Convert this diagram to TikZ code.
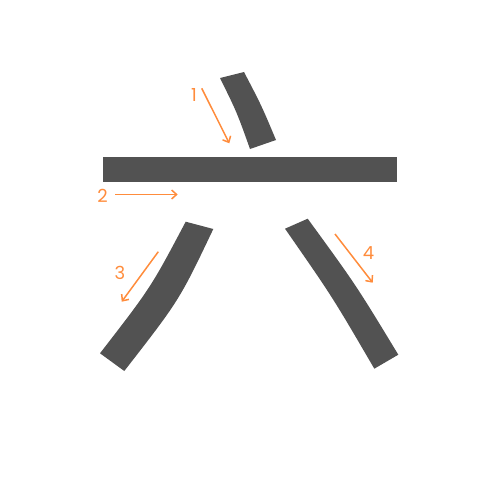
\documentclass[tikz,border=0pt]{standalone}
\usepackage{fontspec}
\setmainfont{Poppins}
\usetikzlibrary{arrows.meta}
\definecolor{strokegray}{RGB}{82,82,82}
\definecolor{hintorange}{RGB}{255,140,60}
\begin{document}
\begin{tikzpicture}[x=1pt,y=-1pt,
  brush/.style={fill=strokegray},
  hint/.style={draw=hintorange,line width=1.5pt,-{Straight Barb[length=5pt,width=9pt]}},
  num/.style={text=hintorange,font=\fontsize{18}{18}\selectfont,inner sep=0pt}]
\useasboundingbox (0,0) rectangle (500,500);
% strokes
\path[brush] (220,78) -- (244,72) .. controls (261.5,105.5) .. (276,140)
  -- (250,149) .. controls (237,112.5) .. cycle;
\path[brush] (103,157) rectangle (397,182);
\path[brush] (185.7,221.7) -- (213.3,229) .. controls (179.5,300) .. (124.3,371)
  -- (100,353.3) .. controls (150.9,287.5) .. cycle;
\path[brush] (285,228.7) -- (307.7,218.7) .. controls (356,285) .. (398.3,354.7)
  -- (374.3,368.7) .. controls (332.5,297) .. cycle;
% hint arrows
\coordinate (a1s) at (201.7,88.3); \coordinate (a1e) at (229.3,143.3);
\coordinate (a2s) at (115,194.5); \coordinate (a2e) at (177.7,194.5);
\coordinate (a3s) at (158.3,251.7); \coordinate (a3e) at (121.7,301.7);
\coordinate (a4s) at (335,234); \coordinate (a4e) at (372.7,282.7);
\draw[hint] (a1s) -- (a1e);
\draw[hint] (a2s) -- (a2e);
\draw[hint] (a3s) -- (a3e);
\draw[hint] (a4s) -- (a4e);
\node[num] (n1) at (194,95) {1};
\node[num] (n2) at (102.5,196) {2};
\node[num] (n3) at (120,273) {3};
\node[num] (n4) at (368.5,253) {4};
\end{tikzpicture}
\end{document}
